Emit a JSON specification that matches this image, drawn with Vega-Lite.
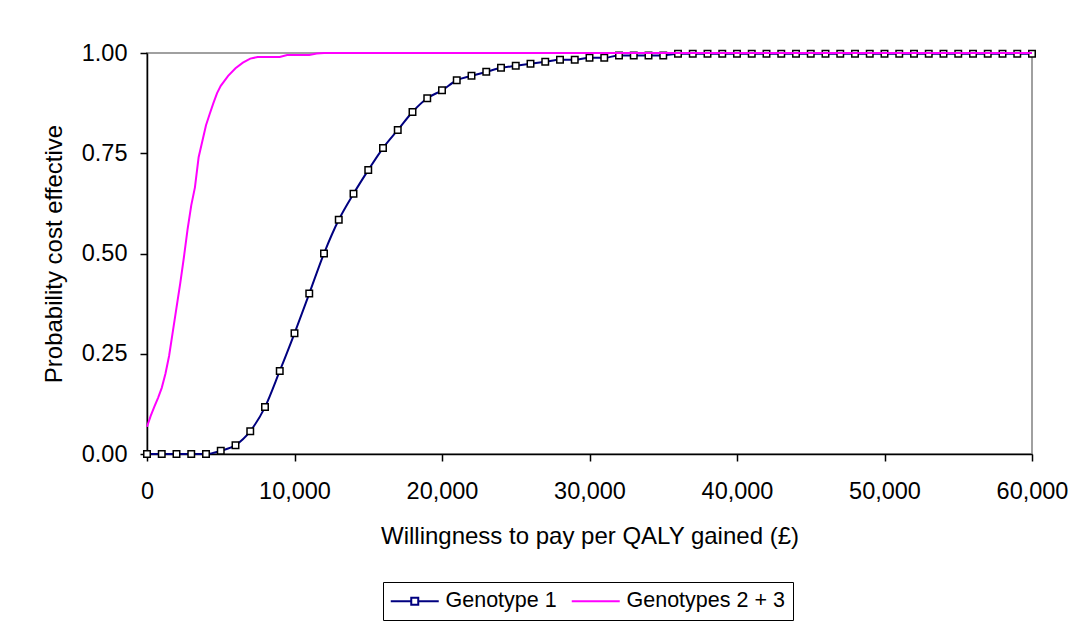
{
  "$schema": "https://vega.github.io/schema/vega-lite/v6.json",
  "autosize": {"type": "none"},
  "padding": {"left": 147, "top": 53, "right": 45, "bottom": 171},
  "width": 885,
  "height": 401,
  "background": "white",
  "config": {
    "view": {"stroke": "#a0a0a0", "strokeWidth": 2},
    "font": "Liberation Sans",
    "axis": {"grid": false, "domainColor": "black", "domainWidth": 1.5, "tickColor": "black", "tickWidth": 1.5, "tickSize": 7, "labelColor": "black", "titleColor": "black", "labelFont": "Liberation Sans", "titleFont": "Liberation Sans", "labelFontSize": 23.5, "titleFontSize": 24, "titleFontWeight": "normal"}
  },
  "datasets": {
    "g1": [
      {"wtp": 0, "p": 0}, {"wtp": 1000, "p": 0}, {"wtp": 2000, "p": 0}, {"wtp": 3000, "p": 0}, {"wtp": 4000, "p": 0},
      {"wtp": 5000, "p": 0.008}, {"wtp": 6000, "p": 0.022}, {"wtp": 7000, "p": 0.057}, {"wtp": 8000, "p": 0.117}, {"wtp": 9000, "p": 0.207},
      {"wtp": 10000, "p": 0.301}, {"wtp": 11000, "p": 0.4}, {"wtp": 12000, "p": 0.5}, {"wtp": 13000, "p": 0.584}, {"wtp": 14000, "p": 0.649},
      {"wtp": 15000, "p": 0.708}, {"wtp": 16000, "p": 0.763}, {"wtp": 17000, "p": 0.808}, {"wtp": 18000, "p": 0.853}, {"wtp": 19000, "p": 0.887},
      {"wtp": 20000, "p": 0.907}, {"wtp": 21000, "p": 0.932}, {"wtp": 22000, "p": 0.943}, {"wtp": 23000, "p": 0.953}, {"wtp": 24000, "p": 0.963},
      {"wtp": 25000, "p": 0.968}, {"wtp": 26000, "p": 0.973}, {"wtp": 27000, "p": 0.978}, {"wtp": 28000, "p": 0.983}, {"wtp": 29000, "p": 0.983},
      {"wtp": 30000, "p": 0.988}, {"wtp": 31000, "p": 0.988}, {"wtp": 32000, "p": 0.994}, {"wtp": 33000, "p": 0.994}, {"wtp": 34000, "p": 0.994},
      {"wtp": 35000, "p": 0.994}, {"wtp": 36000, "p": 0.998}, {"wtp": 37000, "p": 0.998}, {"wtp": 38000, "p": 0.998}, {"wtp": 39000, "p": 0.998},
      {"wtp": 40000, "p": 0.998}, {"wtp": 41000, "p": 0.998}, {"wtp": 42000, "p": 0.998}, {"wtp": 43000, "p": 0.998}, {"wtp": 44000, "p": 0.998},
      {"wtp": 45000, "p": 0.998}, {"wtp": 46000, "p": 0.998}, {"wtp": 47000, "p": 0.998}, {"wtp": 48000, "p": 0.998}, {"wtp": 49000, "p": 0.998},
      {"wtp": 50000, "p": 0.998}, {"wtp": 51000, "p": 0.998}, {"wtp": 52000, "p": 0.998}, {"wtp": 53000, "p": 0.998}, {"wtp": 54000, "p": 0.998},
      {"wtp": 55000, "p": 0.998}, {"wtp": 56000, "p": 0.998}, {"wtp": 57000, "p": 0.998}, {"wtp": 58000, "p": 0.998}, {"wtp": 59000, "p": 0.998},
      {"wtp": 60000, "p": 0.998}
    ],
    "g23": [
      {"wtp": 0, "p": 0.068}, {"wtp": 250, "p": 0.095}, {"wtp": 500, "p": 0.118}, {"wtp": 750, "p": 0.14}, {"wtp": 1000, "p": 0.165},
      {"wtp": 1250, "p": 0.2}, {"wtp": 1500, "p": 0.245}, {"wtp": 1750, "p": 0.305}, {"wtp": 2000, "p": 0.365}, {"wtp": 2250, "p": 0.425},
      {"wtp": 2500, "p": 0.49}, {"wtp": 2750, "p": 0.56}, {"wtp": 3000, "p": 0.62}, {"wtp": 3250, "p": 0.665}, {"wtp": 3500, "p": 0.74},
      {"wtp": 3750, "p": 0.78}, {"wtp": 4000, "p": 0.82}, {"wtp": 4250, "p": 0.848}, {"wtp": 4500, "p": 0.875}, {"wtp": 4750, "p": 0.9},
      {"wtp": 5000, "p": 0.918}, {"wtp": 5500, "p": 0.943}, {"wtp": 6000, "p": 0.962}, {"wtp": 6500, "p": 0.976}, {"wtp": 7000, "p": 0.986},
      {"wtp": 7500, "p": 0.99}, {"wtp": 8000, "p": 0.99}, {"wtp": 8500, "p": 0.99}, {"wtp": 9000, "p": 0.99}, {"wtp": 9500, "p": 0.995},
      {"wtp": 10000, "p": 0.995}, {"wtp": 11000, "p": 0.995}, {"wtp": 11500, "p": 0.999}, {"wtp": 12000, "p": 1.0}, {"wtp": 13000, "p": 1.0},
      {"wtp": 14000, "p": 1.0}, {"wtp": 15000, "p": 1.0}, {"wtp": 16000, "p": 1.0}, {"wtp": 17000, "p": 1.0}, {"wtp": 18000, "p": 1.0},
      {"wtp": 19000, "p": 1.0}, {"wtp": 20000, "p": 1.0}, {"wtp": 25000, "p": 1.0}, {"wtp": 30000, "p": 1.0}, {"wtp": 35000, "p": 1.0},
      {"wtp": 40000, "p": 1.0}, {"wtp": 45000, "p": 1.0}, {"wtp": 50000, "p": 1.0}, {"wtp": 55000, "p": 1.0}, {"wtp": 60000, "p": 1.0}
    ]
  },
  "encoding": {
    "x": {"field": "wtp", "type": "quantitative", "scale": {"domain": [0, 60000], "nice": false},
      "axis": {"values": [0, 10000, 20000, 30000, 40000, 50000, 60000], "format": ",.0f", "labelPadding": 18, "labelFlush": false, "title": "Willingness to pay per QALY gained (£)", "titlePadding": 22}},
    "y": {"field": "p", "type": "quantitative", "scale": {"domain": [0, 1], "nice": false},
      "axis": {"values": [0, 0.25, 0.5, 0.75, 1], "format": ".2f", "labelPadding": 13, "title": "Probability cost effective", "titlePadding": 15}}
  },
  "layer": [
    {
      "data": {"name": "g1"},
      "mark": {"type": "line", "interpolate": "monotone", "strokeWidth": 2},
      "encoding": {
        "color": {"datum": "Genotype 1", "type": "nominal",
          "scale": {"domain": ["Genotype 1", "Genotypes 2 + 3"], "range": ["#000080", "#FF00FF"]},
          "legend": {"title": null, "orient": "none", "legendX": 236, "legendY": 529, "direction": "horizontal",
            "strokeColor": "black", "fillColor": "white", "padding": 8, "columnPadding": 10, "labelOffset": 33,
            "symbolSize": 100, "symbolStrokeWidth": 2, "symbolFillColor": "white",
            "symbolType": {"expr": "datum.value == 'Genotype 1' ? 'M-2.2,0H1.9M3.3,0H7.4M1.9,-0.7H3.3V0.7H1.9Z' : 'M-2.2,0H7.4'"},
            "labelFont": "Liberation Sans", "labelFontSize": 21.5, "labelColor": "black"}}
      }
    },
    {
      "data": {"name": "g1"},
      "mark": {"type": "point", "shape": "square", "filled": true, "fill": "white", "stroke": "black", "strokeWidth": 1.5, "size": 42, "opacity": 1}
    },
    {
      "data": {"name": "g23"},
      "mark": {"type": "line", "interpolate": "linear", "strokeWidth": 2},
      "encoding": {
        "color": {"datum": "Genotypes 2 + 3", "type": "nominal"}
      }
    }
  ]
}
